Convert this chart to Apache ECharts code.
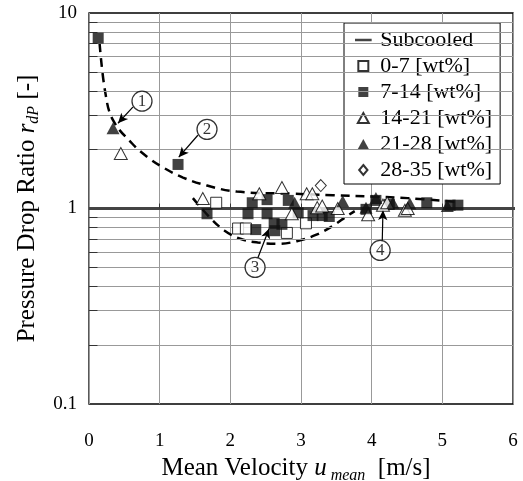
<!DOCTYPE html>
<html><head><meta charset="utf-8">
<script src="https://cdn.jsdelivr.net/npm/echarts@6/dist/echarts.min.js"></script>
<style>html,body{margin:0;padding:0;background:#fff}#c{width:523px;height:481px}</style>
</head><body><div id="c"></div>
<script>
const FONT = 'Liberation Serif';
const xTicks = [0, 1, 2, 3, 4, 5, 6];
const yTicks = [0.1, 1, 10];
const seriesNames = ['Subcooled', '0-7 [wt%]', '7-14 [wt%]', '14-21 [wt%]', '21-28 [wt%]', '28-35 [wt%]'];
const subcooled = [[0, 1], [6.12, 1]];
const wt0_7 = [[1.80, 1.07], [2.11, 0.79], [2.22, 0.79], [2.80, 0.75], [3.07, 0.84]];
const wt7_14 = [[0.13, 7.44], [1.26, 1.68], [1.67, 0.94], [2.25, 0.94], [2.31, 1.07], [2.36, 0.78], [2.52, 1.11], [2.52, 0.94],
  [2.62, 0.84], [2.63, 0.77], [2.73, 0.83], [2.82, 1.10], [2.96, 0.95], [3.17, 0.92], [3.30, 0.92], [3.40, 0.91],
  [3.92, 0.99], [4.06, 1.10], [4.25, 1.05], [4.78, 1.07], [5.11, 1.04], [5.22, 1.04]];
const wt14_21 = [[0.45, 1.91], [1.61, 1.125], [2.41, 1.19], [2.73, 1.28], [2.87, 0.94], [3.08, 1.19], [3.16, 1.19], [3.23, 1.01],
  [3.30, 1.03], [3.52, 1.0], [3.95, 0.93], [4.16, 1.04], [4.22, 1.07], [4.47, 0.98], [4.51, 1.0]];
const wt21_28 = [[0.34, 2.57], [2.91, 1.07], [3.59, 1.09], [3.92, 1.01], [4.06, 1.13], [4.30, 1.07], [4.54, 1.06], [5.07, 1.03]];
const wt28_35 = [[3.28, 1.31]];
const upperTrend = [[0.15, 7.0], [0.23, 3.93], [0.34, 2.83], [0.61, 2.15], [0.83, 1.83], [1.05, 1.62], [1.33, 1.44], [1.67, 1.31],
  [2.09, 1.22], [2.89, 1.19], [3.45, 1.17], [4.02, 1.15], [4.51, 1.13], [5.2, 1.08]];
const lowerTrend = [[1.47, 1.13], [1.71, 0.90], [1.92, 0.77], [2.14, 0.70], [2.39, 0.67], [2.67, 0.66], [2.94, 0.68], [3.20, 0.73],
  [3.44, 0.81], [3.66, 0.92], [3.76, 0.97]];
const noteNums = ['1', '2', '3', '4'];
const notePos = [[0.75, 3.54], [1.67, 2.54], [2.35, 0.50], [4.12, 0.61]];
const arrowFrom = [[0.62, 3.30], [1.54, 2.37], [2.39, 0.56], [4.15, 0.686]];
const arrowTo = [[0.41, 2.73], [1.27, 1.83], [2.55, 0.79], [4.16, 0.98]];
const minorY = [0.2, 0.3, 0.4, 0.5, 0.6, 0.7, 0.8, 0.9, 2, 3, 4, 5, 6, 7, 8, 9];
const axisTickX = [1, 2, 3, 4, 5];

const ICON_LINE = 'path://M0,0L0,0.01M0,4.5L20,4.5L20,7.5L0,7.5ZM0,12L0,12.01';
const ICON_SQ = 'path://M0,0L10,0L10,10L0,10Z';
const ICON_TRI = 'path://M5.5,0L11,10L0,10Z';
const ICON_DIA = 'path://M5,0L10,6L5,12L0,6Z';

const chart = echarts.init(document.getElementById('c'));
const open = { color: '#fff', borderColor: '#000', borderWidth: 1 };
const fill = { color: '#111', borderColor: '#111', borderWidth: 0 };
const sc = (name, data, symbol, size, style) => ({
  name, type: 'scatter', data, symbol, symbolSize: size, itemStyle: style, z: 5
});
chart.setOption({
  animation: false,
  textStyle: { fontFamily: FONT, color: '#000' },
  grid: { left: 89, right: 10, top: 13, bottom: 77, outerBoundsMode: 'none', containLabel: false,
    show: true, borderColor: '#000', borderWidth: 1.3, backgroundColor: 'transparent' },
  legend: {
    data: [
      { name: seriesNames[0], icon: ICON_LINE, itemStyle: { color: '#444', borderWidth: 0 } },
      { name: seriesNames[1], icon: ICON_SQ },
      { name: seriesNames[2], icon: ICON_SQ },
      { name: seriesNames[3], icon: ICON_TRI },
      { name: seriesNames[4], icon: ICON_TRI },
      { name: seriesNames[5], icon: ICON_DIA }
    ],
    orient: 'vertical', left: 344, top: 23, symbolKeepAspect: true,
    backgroundColor: '#fff', borderColor: '#000', borderWidth: 1,
    padding: [6, 8, 3, 11], itemGap: 4, itemWidth: 20, itemHeight: 10,
    textStyle: { fontFamily: FONT, fontSize: 22, color: '#000', lineHeight: 21, padding: [0, 0, 0, 2] }
  },
  xAxis: {
    type: 'value', min: xTicks[0], max: xTicks[xTicks.length - 1], interval: 1,
    axisLine: { show: false }, axisTick: { show: false },
    axisLabel: { fontFamily: FONT, fontSize: 19, color: '#000', margin: 28 },
    splitLine: { show: true, lineStyle: { color: '#999', width: 1 } },
    name: '{t|Mean Velocity }{i|u}{s| mean}{t|  [m/s]}', nameLocation: 'middle', nameGap: 49,
    nameTextStyle: { padding: [0, 10, 0, 0], rich: {
      t: { fontFamily: FONT, fontSize: 25, color: '#000', lineHeight: 30 },
      i: { fontFamily: FONT, fontSize: 25, fontStyle: 'italic', color: '#000', lineHeight: 30 },
      s: { fontFamily: FONT, fontSize: 16, fontStyle: 'italic', color: '#000', verticalAlign: 'bottom' }
    } }
  },
  yAxis: {
    type: 'log', logBase: 10, min: yTicks[0], max: yTicks[yTicks.length - 1],
    axisLine: { show: false }, axisTick: { show: false },
    axisLabel: { fontFamily: FONT, fontSize: 19, color: '#000', margin: 12, formatter: v => String(v) },
    splitLine: { show: false },
    name: '{t|Pressure Drop Ratio }{i|r}{s|dP}{t| [-]}', nameLocation: 'middle', nameGap: 47, nameRotate: 90,
    nameTextStyle: { padding: [0, 0, 0, 0], rich: {
      t: { fontFamily: FONT, fontSize: 25, color: '#000', lineHeight: 30 },
      i: { fontFamily: FONT, fontSize: 25, fontStyle: 'italic', color: '#000', lineHeight: 30 },
      s: { fontFamily: FONT, fontSize: 16, fontStyle: 'italic', color: '#000', verticalAlign: 'bottom' }
    } }
  },
  series: [
    { name: 'grid', type: 'line', data: [], symbol: 'none', silent: true, z: 1,
      markLine: { silent: true, symbol: ['none', 'none'], label: { show: false }, animation: false,
        lineStyle: { color: '#999', width: 1, type: 'solid' },
        data: minorY.map(v => ({ yAxis: v })).concat(
          minorY.map(v => [{ coord: [0, v], lineStyle: { color: '#333', width: 1 } }, { coord: [0.12, v] }]),
          axisTickX.map(v => [{ coord: [v, 1], lineStyle: { color: '#333', width: 1 } }, { coord: [v, 1.06] }])
        ) } },
    { name: seriesNames[0], type: 'line', data: subcooled, symbol: 'none', clip: false, z: 3,
      lineStyle: { color: '#444', width: 3 }, itemStyle: { color: '#444' } },
    sc(seriesNames[1], wt0_7, 'rect', 11, open),
    sc(seriesNames[2], wt7_14, 'rect', 11, fill),
    sc(seriesNames[3], wt14_21, 'triangle', [13, 12], open),
    sc(seriesNames[4], wt21_28, 'triangle', [13, 12], fill),
    sc(seriesNames[5], wt28_35, 'diamond', [11, 12], open),
    { name: 'upper', type: 'line', data: upperTrend, smooth: 0.4, symbol: 'none', z: 4,
      lineStyle: { color: '#000', width: 2.5, type: [9, 6] } },
    { name: 'lower', type: 'line', data: lowerTrend, smooth: 0.4, symbol: 'none', z: 4,
      lineStyle: { color: '#000', width: 2.5, type: [9, 6] } },
    { name: 'arrows', type: 'line', data: [], symbol: 'none', z: 6,
      markLine: { silent: true, symbol: ['none', 'arrow'], symbolSize: [7, 10], label: { show: false }, animation: false,
        lineStyle: { color: '#000', width: 1.2, type: 'solid' },
        data: arrowFrom.map((f, i) => [{ coord: f }, { coord: arrowTo[i] }]) } },
    { name: 'notes', type: 'scatter', z: 7, symbol: 'circle', symbolSize: 20,
      itemStyle: { color: '#fff', borderColor: '#000', borderWidth: 1.3 },
      data: notePos.map((p, i) => ({ value: p, name: noteNums[i] })),
      label: { show: true, position: 'inside', formatter: p => p.name, fontFamily: FONT, fontSize: 17, color: '#000' } }
  ]
});
</script></body></html>
